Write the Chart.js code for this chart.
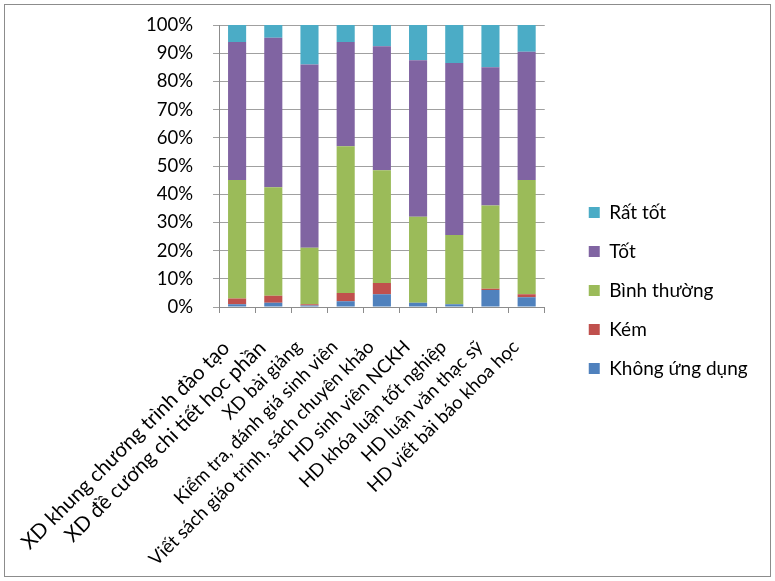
<!DOCTYPE html>
<html>
<head>
<meta charset="utf-8">
<script src="https://cdn.jsdelivr.net/npm/chart.js@4"></script>
<style>
html,body{margin:0;padding:0;background:#fff;}
#wrap{position:relative;width:775px;height:581px;}
#frame{position:absolute;left:4px;top:4px;width:765px;height:571px;border:1px solid #8c8c8c;pointer-events:none;}
canvas{position:absolute;left:0;top:0;}
</style>
</head>
<body>
<div id="wrap">
<canvas id="c" width="775" height="581"></canvas>
<div id="frame"></div>
</div>
<script>
const categories = [
  "XD khung chương trình đào tạo",
  "XD đề cương chi tiết học phần",
  "XD bài giảng",
  "Kiểm tra, đánh giá sinh viên",
  "Viết sách giáo trình, sách chuyên khảo",
  "HD sinh viên NCKH",
  "HD khóa luận tốt nghiệp",
  "HD luận văn thạc sỹ",
  "HD viết bài báo khoa học"
];
const seriesNames = ["Không ứng dụng", "Kém", "Bình thường", "Tốt", "Rất tốt"];
const khongUngDung = [1, 1.5, 0.5, 2, 4.5, 1.5, 1, 6, 3.5];
const kem          = [2, 2.5, 0.5, 3, 4, 0, 0, 0.5, 1];
const binhThuong   = [42, 38.5, 20, 52, 40, 30.5, 24.5, 29.5, 40.5];
const tot          = [49, 53, 65, 37, 44, 55.5, 61, 49, 45.5];
const ratTot       = [6, 4.5, 14, 6, 7.5, 12.5, 13.5, 15, 9.5];
const yTicks = [0,10,20,30,40,50,60,70,80,90,100];

const colors = ["#4F81BD", "#C0504D", "#9BBB59", "#8064A2", "#4BACC6"];
const values = [khongUngDung, kem, binhThuong, tot, ratTot];
const FONT = "Lato, 'Noto Sans', sans-serif";

const spacer = (size) => ({
  display: false,
  afterFit: (s) => { if (s.isHorizontal()) s.height = size; else s.width = size; }
});

new Chart(document.getElementById('c'), {
  type: 'bar',
  data: {
    labels: categories,
    datasets: seriesNames.map((n, i) => ({
      label: n,
      data: values[i],
      backgroundColor: colors[i],
      borderWidth: 0,
      barPercentage: 0.5,
      categoryPercentage: 1.0
    }))
  },
  options: {
    responsive: false,
    animation: false,
    layout: { padding: { left: 10, right: 20, top: 14, bottom: 14 } },
    plugins: {
      legend: {
        position: 'right',
        reverse: true,
        labels: {
          boxWidth: 11, boxHeight: 11, padding: 20,
          color: '#000',
          font: { family: FONT, size: 19 }
        }
      },
      tooltip: { enabled: false }
    },
    scales: {
      x: {
        stacked: true,
        grid: { display: true, drawOnChartArea: false, offset: true, color: '#8c8c8c', tickLength: 6 },
        border: { color: '#8c8c8c' },
        afterFit: (s) => { s.height = 260; s.paddingLeft = 0; s.paddingRight = 0; },
        ticks: {
          color: '#000',
          minRotation: 45, maxRotation: 45,
          autoSkip: false,
          padding: 23,
          labelOffset: -11,
          font: (ctx) => ({ family: FONT, size: ctx.index < 2 ? 20.5 : 18.5 })
        }
      },
      y: {
        stacked: true,
        min: 0, max: 100,
        afterBuildTicks: (axis) => { axis.ticks = yTicks.map(v => ({ value: v })); },
        afterFit: (s) => { s.width = 209; s.paddingTop = 0; s.paddingBottom = 0; },
        grid: { color: '#a0a0a0', tickLength: 6 },
        border: { color: '#8c8c8c' },
        ticks: {
          color: '#000',
          font: { family: FONT, size: 18.5 },
          padding: 20,
          callback: (v) => v + '%'
        }
      },
      gapTop: Object.assign({ position: 'top', type: 'category' }, spacer(11)),
      gapRight: Object.assign({ position: 'right', type: 'linear' }, spacer(24))
    }
  }
});
</script>
</body>
</html>
